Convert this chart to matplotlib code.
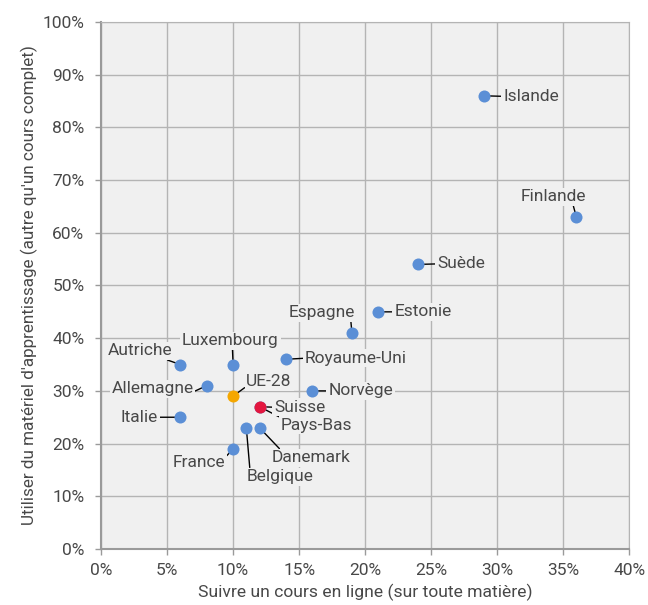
import matplotlib.pyplot as plt
from matplotlib.ticker import PercentFormatter

plt.rcParams['font.family'] = ['Roboto', 'DejaVu Sans']

# donnees (en %)
pays = ["Islande", "Finlande", "Suède", "Estonie", "Espagne", "Royaume-Uni", "Norvège",
        "Luxembourg", "Autriche", "Allemagne", "Italie", "France", "Belgique", "Danemark",
        "Pays-Bas", "UE-28", "Suisse"]
cours_en_ligne = [29, 36, 24, 21, 19, 14, 16, 10, 6, 8, 6, 10, 11, 12, 12, 10, 12]
materiel = [86, 63, 54, 45, 41, 36, 30, 35, 35, 31, 25, 19, 23, 23, 27, 29, 27]

# position des etiquettes (x, y, alignement, point d'attache du trait)
etiquettes = {
    "Islande": (30.45, 85.9, 'left', (0, 0.5)),
    "Finlande": (34.25, 66.8, 'center', (0.8, 0)),
    "Suède": (25.45, 54.1, 'left', (0, 0.5)),
    "Estonie": (22.2, 45.0, 'left', (0, 0.5)),
    "Espagne": (16.75, 44.8, 'center', (0.93, 0)),
    "Royaume-Uni": (15.45, 36.2, 'left', (0, 0.5)),
    "Norvège": (17.2, 30.0, 'left', (0, 0.5)),
    "Luxembourg": (9.8, 39.5, 'center', (0.52, 0)),
    "Autriche": (2.95, 37.6, 'center', (0.85, 0)),
    "Allemagne": (7.0, 30.4, 'right', (1, 0.3)),
    "Italie": (4.3, 25.0, 'right', (1, 0.5)),
    "France": (7.4, 16.5, 'center', (1, 0.8)),
    "Belgique": (13.55, 13.7, 'center', (0.05, 1)),
    "Danemark": (15.9, 17.3, 'center', (0.12, 1)),
    "Pays-Bas": (13.6, 23.5, 'left', (0.0, 1)),
    "UE-28": (11.0, 31.7, 'left', (0.0, 0.2)),
    "Suisse": (13.1, 26.9, 'left', (0, 0.5)),
}

couleurs = {"UE-28": "#f5a700", "Suisse": "#e3173f"}
bleu = "#5b8fd6"
fond = "#f0f0f0"
texte = "#484848"

fig = plt.figure(figsize=(6.48, 6.05), dpi=100)
ax = fig.add_axes([0.156, 0.0926, 0.815, 0.871])
ax.set_facecolor(fond)

for i in range(len(pays)):
    p = pays[i]
    x, y = cours_en_ligne[i], materiel[i]
    ax.scatter(x, y, s=75, color=couleurs.get(p, bleu), zorder=4, linewidths=0)
    tx, ty, ha, rp = etiquettes[p]
    ax.annotate(p, xy=(x, y), xytext=(tx, ty), ha=ha, va='center', fontsize=12.5,
                color=texte, zorder=3,
                bbox=dict(boxstyle='square,pad=0.1', fc=fond, ec='none'),
                arrowprops=dict(arrowstyle='-', color='black', lw=1.0, relpos=rp,
                                shrinkA=0, shrinkB=3))

ax.set_xlim(0, 40)
ax.set_ylim(0, 100)
ax.set_xticks(range(0, 41, 5))
ax.set_yticks(range(0, 101, 10))
ax.xaxis.set_major_formatter(PercentFormatter(decimals=0))
ax.yaxis.set_major_formatter(PercentFormatter(decimals=0))
ax.grid(True, color='#b4b4b4', lw=1.0, zorder=0)
ax.set_axisbelow(True)
for s in ['top', 'right']:
    ax.spines[s].set_color('#b4b4b4')
for s in ['left', 'bottom']:
    ax.spines[s].set_color('#9a9a9a')
    ax.spines[s].set_linewidth(1.5)
ax.tick_params(axis='both', colors='#9a9a9a', labelcolor=texte, labelsize=12.5,
               length=4, width=1)
ax.tick_params(axis='x', pad=6)
ax.tick_params(axis='y', pad=8)

ax.set_xlabel("Suivre un cours en ligne (sur toute matière)", fontsize=12.6, color=texte)
ax.set_ylabel("Utiliser du matériel d'apprentissage (autre qu'un cours complet)", fontsize=12.3,
              color=texte, labelpad=3)

plt.savefig('out.png', dpi=100)
